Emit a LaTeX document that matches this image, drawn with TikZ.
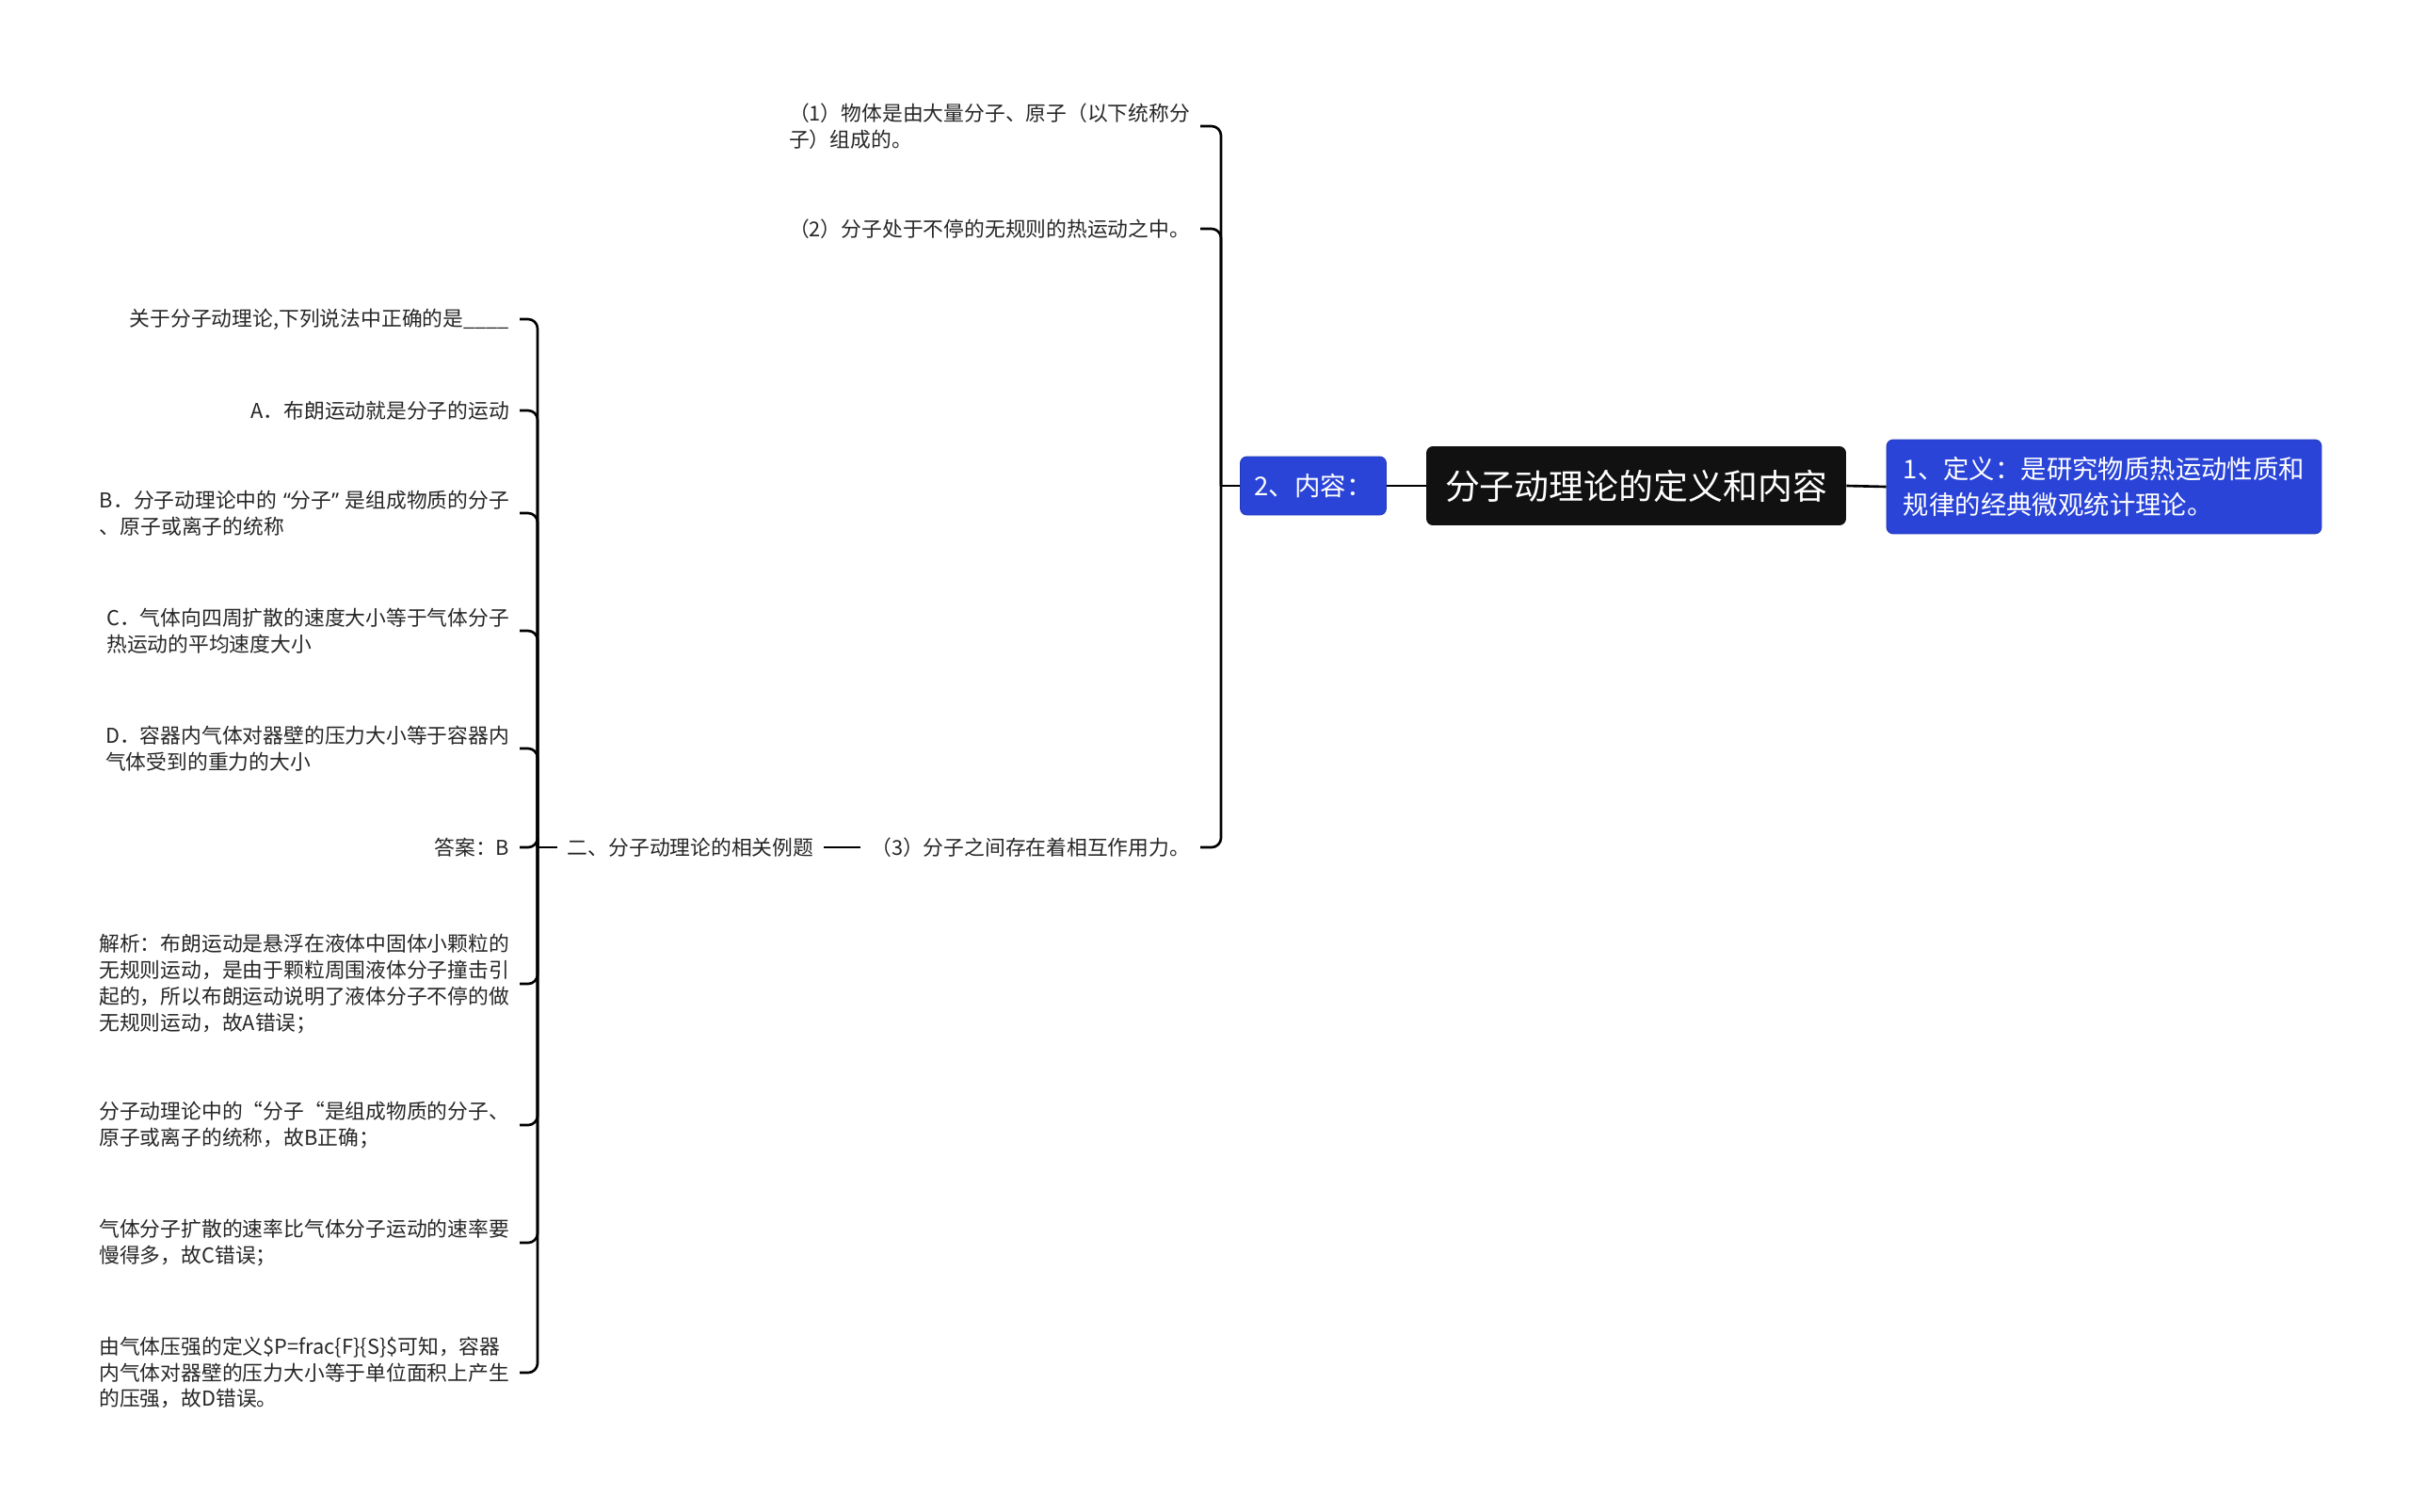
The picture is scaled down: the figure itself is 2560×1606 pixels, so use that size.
\documentclass[tikz,border=0pt]{standalone}
\usepackage{fontspec}
\setmainfont{Noto Sans CJK SC}
\newfontfamily\quotefont{Noto Sans}
\usepackage{xcolor}
\usetikzlibrary{calc}
\definecolor{topicblue}{HTML}{2A44D8}
\definecolor{rootblack}{HTML}{111111}
\definecolor{leaftext}{HTML}{262626}
\newcommand{\openq}{\hspace{0.3em}{\quotefont “}}
\newcommand{\closeq}{{\quotefont ”}\hspace{0.3em}}
\tikzset{rootbox/.style={fill=rootblack, text=white, rounded corners=0.14cm, minimum width=8.92cm, minimum height=1.68cm, font=\fontsize{21}{26}\selectfont}}
\tikzset{bluebox/.style={fill=topicblue, draw=topicblue!85!black, line width=0.5pt, text=white, rounded corners=0.14cm, align=left, font=\fontsize{15.6}{21.5}\selectfont}}
\tikzset{leaf/.style={text=leaftext, inner xsep=6pt, inner ysep=2pt, align=left, font=\fontsize{12.4}{15.8}\selectfont}}
\tikzset{branch/.style={black, line width=1.5pt, rounded corners=0.2cm}}
\tikzset{joint/.style={black, line width=1.5pt}}

\begin{document}
\begin{tikzpicture}[x=0.02cm, y=-0.02cm]
\useasboundingbox (0,0) rectangle (2560,1606);
\node[rootbox] (root) at (1738,516) {分子动理论的定义和内容};
\node[bluebox, minimum width=9.24cm, minimum height=2cm] (defn) at (2235,517) {1、定义：是研究物质热运动性质和\\规律的经典微观统计理论。};
\node[bluebox, minimum width=3.1cm, minimum height=1.24cm] (cont) at (1395,516) {2、内容：};
\coordinate (jr) at (1297,516);
\node[leaf, anchor=east] (c1) at (1275,134) {（1）物体是由大量分子、原子（以下统称分\\子）组成的。};
\node[leaf, anchor=east] (c2) at (1275,243) {（2）分子处于不停的无规则的热运动之中。};
\node[leaf, anchor=east] (c3) at (1275,900) {（3）分子之间存在着相互作用力。};
\node[leaf, anchor=west] (ex) at (592,900) {二、分子动理论的相关例题};
\coordinate (jl) at (571,900);
\node[leaf, anchor=east] (qs) at (552,339) {关于分子动理论,下列说法中正确的是\_\_\_\_};
\node[leaf, anchor=east] (qa) at (552,436) {A．布朗运动就是分子的运动};
\node[leaf, anchor=east] (qb) at (552,545) {B．分子动理论中的\openq 分子\closeq 是组成物质的分子\\、原子或离子的统称};
\node[leaf, anchor=east] (qc) at (552,670) {C．气体向四周扩散的速度大小等于气体分子\\热运动的平均速度大小};
\node[leaf, anchor=east] (qd) at (552,795) {D．容器内气体对器壁的压力大小等于容器内\\气体受到的重力的大小};
\node[leaf, anchor=east] (ans) at (552,900) {答案：B};
\node[leaf, anchor=east] (ja) at (552,1045) {解析：布朗运动是悬浮在液体中固体小颗粒的\\无规则运动，是由于颗粒周围液体分子撞击引\\起的，所以布朗运动说明了液体分子不停的做\\无规则运动，故A错误；};
\node[leaf, anchor=east] (jb) at (552,1195) {分子动理论中的“分子“是组成物质的分子、\\原子或离子的统称，故B正确；};
\node[leaf, anchor=east] (jc) at (552,1320) {气体分子扩散的速率比气体分子运动的速率要\\慢得多，故C错误；};
\node[leaf, anchor=east] (jd) at (552,1458) {由气体压强的定义\$P=frac\{F\}\{S\}\$可知，容器\\内气体对器壁的压力大小等于单位面积上产生\\的压强，故D错误。};
\draw[joint] (root.east) -- (defn.west);
\draw[joint] (cont.east) -- (root.west);
\draw[joint] (jr) -- (cont.west);
\foreach \c in {c1,c2,c3} \draw[branch] (jr) |- (\c.east);
\draw[joint] (c3.west) -- (ex.east);
\draw[joint] (jl) -- (ex.west);
\foreach \q in {qs,qa,qb,qc,qd,ans,ja,jb,jc,jd} \draw[branch] (jl) |- (\q.east);
\end{tikzpicture}
\end{document}
